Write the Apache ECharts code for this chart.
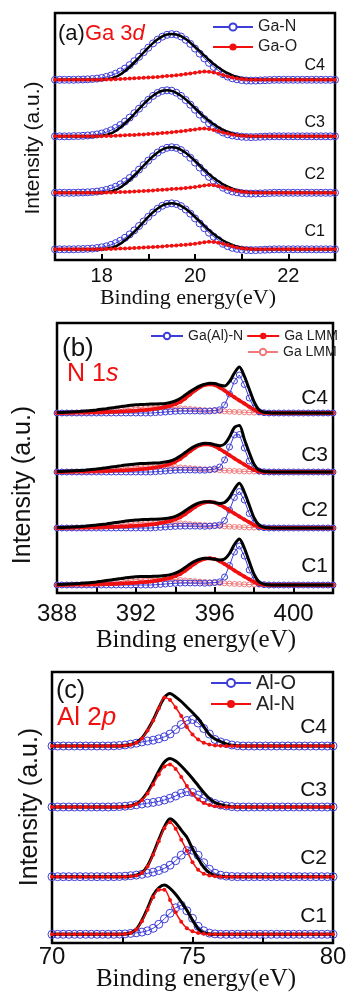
<!DOCTYPE html>
<html>
<head>
<meta charset="utf-8">
<script src="https://cdn.jsdelivr.net/npm/echarts@6/dist/echarts.min.js"></script>
<style>
  html, body { margin: 0; padding: 0; background: #fff; }
  #chart { width: 346px; height: 992px; }
</style>
</head>
<body>
<div id="chart"></div>
<script>
// ---------- data (heights, arbitrary units) ----------
var samples = ['C1', 'C2', 'C3', 'C4'];

// (a) Ga 3d
var xA = [17,17.1,17.2,17.3,17.4,17.5,17.6,17.7,17.8,17.9,
  18,18.1,18.2,18.3,18.4,18.5,18.6,18.7,18.8,18.9,
  19,19.1,19.2,19.3,19.4,19.5,19.6,19.7,19.8,19.9,
  20,20.1,20.2,20.3,20.4,20.5,20.6,20.7,20.8,20.9,
  21,21.1,21.2,21.3,21.4,21.5,21.6,21.7,21.8,21.9,
  22,22.1,22.2,22.3,22.4,22.5,22.6,22.7,22.8,22.9,23];

var gaN_C1 = [0,0,0,0,0,0.2,0.3,0.5,0.8,1.3,
  2.0,3.0,4.4,6.2,8.6,11.5,14.9,18.9,23.3,27.9,
  32.5,36.8,40.6,43.5,45.4,46,45.3,43.2,39.8,35.6,
  30.9,25.9,21.1,16.6,12.6,9.3,5.5,3.2,1.5,0.5,
  -0.3,-0.7,-0.8,-0.8,-0.6,-0.4,-0.2,0,0,0,
  0,0,0,0,0,0,0,0,0,0,0];
var gaN_C2 = [0,0,0,0,0,0.2,0.3,0.5,0.8,1.2,
  1.9,2.9,4.3,6.1,8.5,11.4,14.8,18.8,23.2,27.7,
  32.2,36.5,40.3,43.2,45.0,45.6,44.9,42.7,39.3,35.0,
  30.2,25.2,20.4,15.9,12.0,8.7,5.1,2.9,1.3,0.4,
  -0.3,-0.7,-0.8,-0.7,-0.6,-0.4,-0.2,0,0,0,
  0,0,0,0,0,0,0,0,0,0,0];
var gaN_C3 = [0,0,0,0,0.2,0.3,0.5,0.8,1.2,1.9,
  2.8,4.2,6.0,8.4,11.3,14.7,18.7,23.1,27.6,32.2,
  36.5,40.4,43.4,45.4,46.0,45.6,43.6,40.4,36.3,31.6,
  26.6,21.7,17.2,13.1,9.6,6.4,3.8,2.0,0.9,0.2,
  -0.4,-0.7,-0.8,-0.7,-0.5,-0.3,-0.1,0,0,0,
  0,0,0,0,0,0,0,0,0,0,0];
var gaN_C4 = [0,0,0,0,0,0.2,0.3,0.5,0.8,1.2,
  1.9,2.9,4.3,6.1,8.4,11.3,14.7,18.7,23.0,27.6,
  32.1,36.4,40.2,43.1,45.0,45.7,45.2,43.3,40.0,35.9,
  31.2,26.2,21.4,16.9,12.8,9.4,5.6,3.2,1.5,0.5,
  -0.3,-0.7,-0.8,-0.8,-0.6,-0.4,-0.2,0,0,0,
  0,0,0,0,0,0,0,0,0,0,0];

var gaO_C1 = [0,0,0,0,0,0,0,0,0,0,
  0,0.2,0.3,0.5,0.7,0.9,1.1,1.3,1.5,1.8,
  2.0,2.3,2.6,2.9,3.3,3.6,3.9,4.2,4.5,5.0,
  5.6,6.4,7.1,7.5,7.3,6.6,5.5,4.2,3.0,1.9,
  1.1,0.5,0.2,0,0,0,0,0,0,0,
  0,0,0,0,0,0,0,0,0,0,0];
var gaO_C2 = [0,0,0,0,0,0,0,0,0,0,
  0,0.2,0.3,0.5,0.7,0.9,1.1,1.3,1.6,1.8,
  2.1,2.4,2.7,3.0,3.4,3.7,4.0,4.4,4.8,5.3,
  5.9,6.6,7.3,7.7,7.5,6.8,5.6,4.3,3.0,1.9,
  1.1,0.5,0.2,0,0,0,0,0,0,0,
  0,0,0,0,0,0,0,0,0,0,0];
var gaO_C3 = [0,0,0,0,0,0,0,0,0,0,
  0,0.2,0.4,0.6,0.8,1.0,1.2,1.4,1.7,1.9,
  2.2,2.5,2.8,3.2,3.6,4.0,4.5,5.0,5.6,6.3,
  6.9,7.5,7.7,7.3,6.4,5.2,3.9,2.7,1.7,1.0,
  0.5,0.2,0,0,0,0,0,0,0,0,
  0,0,0,0,0,0,0,0,0,0,0];
var gaO_C4 = [0,0,0,0,0,0,0,0,0,0,
  0,0.2,0.4,0.6,0.8,1.0,1.2,1.5,1.7,2.0,
  2.3,2.6,2.9,3.3,3.7,4.1,4.6,5.1,5.7,6.4,
  7.1,7.8,8.3,8.1,7.3,6.1,4.7,3.4,2.3,1.4,
  0.7,0.3,0.1,0,0,0,0,0,0,0,
  0,0,0,0,0,0,0,0,0,0,0];

var fitA_C1 = [0,0,0,0,0,0,0,0,0,0,
  0,0.5,1.5,3.0,5.5,9.0,13.0,17.5,22.5,27.5,
  32.5,37.0,40.8,43.8,45.6,46.0,45.4,43.5,40.5,36.8,
  32.5,28.0,23.5,19.2,15.3,11.8,8.8,6.3,4.3,2.7,
  1.6,0.8,0.3,0,0,0,0,0,0,0,
  0,0,0,0,0,0,0,0,0,0,0];
var fitA_C2 = [0,0,0,0,0,0,0,0,0,0,
  0,0.5,1.4,2.9,5.3,8.8,12.8,17.3,22.2,27.2,
  32.0,36.5,40.3,43.3,45.2,45.6,45.0,43.0,40.0,36.2,
  31.9,27.4,22.9,18.7,14.9,11.5,8.5,6.1,4.1,2.6,
  1.5,0.8,0.3,0,0,0,0,0,0,0,
  0,0,0,0,0,0,0,0,0,0,0];
var fitA_C3 = [0,0,0,0,0,0,0,0,0,0,
  0.5,1.4,2.9,5.3,8.8,12.8,17.3,22.3,27.4,32.2,
  36.8,40.6,43.6,45.5,46.0,45.4,43.5,40.6,36.9,32.7,
  28.2,23.7,19.4,15.5,12.0,9.0,6.5,4.5,2.9,1.7,
  0.9,0.4,0,0,0,0,0,0,0,0,
  0,0,0,0,0,0,0,0,0,0,0];
var fitA_C4 = [0,0,0,0,0,0,0,0,0,0,
  0,0.5,1.4,2.9,5.3,8.8,12.8,17.3,22.3,27.3,
  32.2,36.7,40.5,43.5,45.3,45.7,45.3,43.6,40.8,37.2,
  33.0,28.6,24.1,19.8,15.8,12.2,9.2,6.6,4.5,2.9,
  1.7,0.9,0.4,0,0,0,0,0,0,0,
  0,0,0,0,0,0,0,0,0,0,0];

// (b) N 1s
var xB = [388,388.25,388.5,388.75,389,389.25,389.5,389.75,390,390.25,390.5,390.75,
  391,391.25,391.5,391.75,392,392.25,392.5,392.75,393,393.25,393.5,393.75,
  394,394.25,394.5,394.75,395,395.25,395.5,395.75,396,396.25,396.5,396.75,
  397,397.25,397.5,397.75,398,398.25,398.5,398.75,399,399.25,399.5,399.75,
  400,400.25,400.5,400.75,401,401.25,401.5,401.75,402];

var gaAlN_C1 = [0,0,0,0, 0,0,0,0, 0,0,0,0, 0,0,0,0, 0,0,0,0,
  0.3,0.6,1.0,1.4, 1.7,1.9,2.0,2.0, 2.0,1.9,1.8,2.0, 2.5,3.2,8.0,19.5,
  33.0,39.0,29.0,15.0, 5.0,1.3,0.3,0, 0,0,0,0,0,0,0,0,0,0,0,0,0];
var gaAlN_C2 = [0,0,0,0, 0,0,0,0, 0,0,0,0, 0,0,0,0, 0,0,0,0,
  0.3,0.6,1.0,1.3, 1.6,1.8,1.9,1.9, 1.9,1.8,1.7,1.9, 2.4,3.0,7.5,18.0,
  30.5,36.5,28.0,14.5, 4.8,1.2,0.3,0, 0,0,0,0,0,0,0,0,0,0,0,0,0];
var gaAlN_C3 = [0,0,0,0, 0,0,0,0, 0,0,0,0, 0,0,0,0, 0,0,0,0,
  0.3,0.6,1.0,1.4, 1.7,1.9,2.0,2.0, 1.9,1.8,1.8,2.2, 3.0,5.0,12.0,25.0,
  37.0,37.5,24.0,11.0, 3.5,1.0,0.2,0, 0,0,0,0,0,0,0,0,0,0,0,0,0];
var gaAlN_C4 = [0,0,0,0, 0,0,0,0, 0,0,0,0, 0,0,0,0, 0,0,0,0,
  0.3,0.6,1.0,1.4, 1.7,1.9,2.0,2.0, 2.0,1.9,1.8,2.0, 2.5,3.2,8.0,19.0,
  32.0,38.0,28.5,15.0, 5.0,1.3,0.3,0, 0,0,0,0,0,0,0,0,0,0,0,0,0];

var lmm1_C1 = [0,0.1,0.2,0.3, 0.4,0.5,0.6,0.7, 0.8,0.9,1.0,1.1, 1.3,1.5,1.7,2.0,
  2.3,2.7,3.1,3.6, 4.2,5.0,6.0,7.2, 8.8,11.0,14.2,18.0, 21.5,24.4,26.2,26.8,
  26.0,23.8,21.0,17.8, 14.6,11.5,8.6,5.7, 3.0,0.9,0.2,0, 0,0,0,0,0,0,0,0,0,0,0,0,0];
var lmm1_C2 = [0,0.1,0.2,0.3, 0.4,0.5,0.6,0.7, 0.8,0.9,1.0,1.1, 1.2,1.4,1.6,1.9,
  2.2,2.6,3.0,3.5, 4.1,4.9,5.9,7.1, 8.6,10.7,13.8,17.5, 21.0,23.8,25.6,26.2,
  25.4,23.2,20.5,17.4, 14.4,11.4,8.6,5.7, 3.0,0.9,0.2,0, 0,0,0,0,0,0,0,0,0,0,0,0,0];
var lmm1_C3 = [0,0.1,0.2,0.3, 0.4,0.5,0.6,0.8, 0.9,1.0,1.1,1.3, 1.4,1.6,1.8,2.1,
  2.4,2.8,3.2,3.8, 4.5,5.4,6.6,8.2, 10.2,13.0,16.8,20.8, 24.3,26.8,27.8,27.5,
  25.8,23.0,20.0,16.8, 13.6,10.5,7.5,4.5, 2.0,0.5,0,0, 0,0,0,0,0,0,0,0,0,0,0,0,0];
var lmm1_C4 = [0,0.1,0.2,0.3, 0.4,0.5,0.6,0.8, 0.9,1.0,1.1,1.2, 1.3,1.5,1.7,2.0,
  2.3,2.7,3.1,3.6, 4.2,5.0,6.0,7.3, 8.8,11.0,14.5,18.5, 22.5,25.8,28.0,28.8,
  28.0,25.5,22.5,19.0, 15.8,12.5,9.5,6.3, 3.3,1.0,0.2,0, 0,0,0,0,0,0,0,0,0,0,0,0,0];

var lmm2_C1 = [0,0,0,0, 0,0,0.2,0.4, 0.7,1.1,1.6,2.2, 2.9,3.6,4.3,5.0,
  5.5,5.9,6.2,6.4, 6.4,6.3,6.1,5.8, 5.4,5.0,4.6,4.2, 3.8,3.4,3.0,2.6,
  2.3,2.0,1.7,1.4, 1.1,0.9,0.7,0.5, 0.4,0.3,0.2,0.1, 0,0,0,0,0,0,0,0,0,0,0,0,0];
var lmm2_C2 = [0,0,0,0, 0,0,0,0.3, 0.6,1.0,1.5,2.0, 2.6,3.3,4.0,4.6,
  5.1,5.5,5.8,5.9, 5.9,5.8,5.6,5.3, 5.0,4.7,4.3,3.9, 3.5,3.1,2.8,2.5,
  2.2,1.9,1.6,1.3, 1.1,0.9,0.7,0.5, 0.4,0.3,0.2,0.1, 0,0,0,0,0,0,0,0,0,0,0,0,0];
var lmm2_C3 = [0,0,0,0, 0,0,0.2,0.4, 0.7,1.1,1.6,2.2, 2.9,3.6,4.3,4.9,
  5.4,5.8,6.0,6.0, 5.9,5.8,5.6,5.3, 5.0,4.6,4.2,3.8, 3.4,3.0,2.7,2.4,
  2.1,1.8,1.5,1.2, 1.0,0.8,0.6,0.5, 0.4,0.3,0.2,0.1, 0,0,0,0,0,0,0,0,0,0,0,0,0];
var lmm2_C4 = [0,0,0,0, 0,0,0,0.3, 0.6,1.0,1.5,2.1, 2.8,3.5,4.2,4.8,
  5.3,5.7,6.0,6.1, 6.1,6.0,5.8,5.5, 5.2,4.8,4.4,4.0, 3.6,3.2,2.8,2.5,
  2.2,1.9,1.6,1.3, 1.1,0.9,0.7,0.5, 0.4,0.3,0.2,0.1, 0,0,0,0,0,0,0,0,0,0,0,0,0];

var fitB_C1 = [0.5,0.6,0.8,1.0, 1.3,1.7,2.1,2.6, 3.1,3.7,4.4,5.1, 5.8,6.5,7.2,7.8,
  8.2,8.4,8.5,8.6, 8.8,9.0,9.5,10.4, 11.8,14.2,17.5,21.0, 23.8,25.8,26.7,26.6,
  25.8,25.0,26.0,31.5, 40.5,46.0,37.0,23.5, 10.5,3.0,0.8,0.2, 0,0,0,0,0,0,0,0,0,0,0,0,0];
var fitB_C2 = [0.4,0.5,0.7,0.9, 1.2,1.5,1.9,2.4, 2.9,3.5,4.1,4.8, 5.5,6.2,6.9,7.5,
  8.0,8.3,8.5,8.7, 8.8,9.0,9.4,10.2, 11.6,14.0,17.2,20.6, 23.4,25.4,26.3,26.2,
  25.4,24.6,25.5,30.5, 39.0,44.7,36.0,23.0, 10.0,2.8,0.7,0.2, 0,0,0,0,0,0,0,0,0,0,0,0,0];
var fitB_C3 = [0.5,0.6,0.8,1.0, 1.3,1.6,2.0,2.5, 3.0,3.6,4.2,4.9, 5.6,6.3,7.0,7.6,
  8.1,8.4,8.6,8.8, 9.0,9.3,9.9,11.0, 13.0,16.0,19.5,23.0, 25.8,27.8,28.8,28.5,
  27.3,26.3,28.0,35.0, 44.5,46.5,33.0,19.5, 7.5,2.0,0.6,0.2, 0,0,0,0,0,0,0,0,0,0,0,0,0];
var fitB_C4 = [0.5,0.6,0.8,1.0, 1.3,1.7,2.1,2.6, 3.1,3.7,4.3,5.0, 5.7,6.4,7.1,7.7,
  8.2,8.5,8.7,8.9, 9.0,9.2,9.6,10.5, 12.0,14.5,18.0,21.5, 24.5,27.0,28.7,29.7,
  29.5,28.0,27.0,31.5, 40.0,46.0,37.0,24.0, 11.0,3.0,0.8,0.3, 0,0,0,0,0,0,0,0,0,0,0,0,0];

// (c) Al 2p
var xC = [70,70.2,70.4,70.6,70.8,71,71.2,71.4,71.6,71.8,
  72,72.2,72.4,72.6,72.8,73,73.2,73.4,73.6,73.8,
  74,74.2,74.4,74.6,74.8,75,75.2,75.4,75.6,75.8,
  76,76.2,76.4,76.6,76.8,77,77.2,77.4,77.6,77.8,
  78,78.2,78.4,78.6,78.8,79,79.2,79.4,79.6,79.8,80];

var alO_C1 = [0,0,0,0,0,0,0,0,0,0,
  0,0,0.2,0.4,0.9,1.5,2.2,3.5,6,10,
  15.5,21,26.5,29,23.5,16,8,3.5,1.2,0.4,
  0,0,0,0,0,0,0,0,0,0, 0,0,0,0,0,0,0,0,0,0,0];
var alO_C2 = [0,0,0,0,0,0,0,0,0,0,
  0,0,0.2,0.5,1.0,1.6,2.4,3.4,4.6,6.2,
  8.3,11.5,16,21.5,26,26.5,21.5,14,7.5,3.5,
  1.5,0.6,0.2,0,0,0,0,0,0,0, 0,0,0,0,0,0,0,0,0,0,0];
var alO_C3 = [0,0,0,0,0,0,0,0,0,0,
  0,0.2,0.4,0.8,1.4,2.2,3.0,3.8,4.6,5.6,
  7.0,8.8,11,13.8,15.3,14.5,12,8.8,5.8,3.5,
  2,1,0.4,0,0,0,0,0,0,0, 0,0,0,0,0,0,0,0,0,0,0];
var alO_C4 = [0,0,0,0,0,0,0,0,0,0,
  0,0.2,0.5,1.0,1.8,2.8,4.0,5.0,5.8,7.2,
  9.2,12,16.5,21.5,25.5,26.5,23,17.5,12,6.5,
  4,2.5,1,0.3,0,0,0,0,0,0, 0,0,0,0,0,0,0,0,0,0,0];

var alN_C1 = [0,0,0,0,0,0,0,0,0,0,
  0,0,0,0.3,1.4,4.7,13,24.5,37,44.5,
  44.5,34.3,22,12.5,6,3,1.3,0.5,0,0,
  0,0,0,0,0,0,0,0,0,0, 0,0,0,0,0,0,0,0,0,0,0];
var alN_C2 = [0,0,0,0,0,0,0,0,0,0,
  0,0,0,0,0.4,1.3,3.7,10.3,22,35.5,
  48.5,54.5,48,37,26,14.5,7,3,1.2,0.4,
  0,0,0,0,0,0,0,0,0,0, 0,0,0,0,0,0,0,0,0,0,0];
var alN_C3 = [0,0,0,0,0,0,0,0,0,0,
  0,0,0,0.3,1.1,2.9,6.8,13.5,22.5,32.5,
  40.5,42.5,38,30,21,13,7.5,4,2,0.8,
  0.3,0,0,0,0,0,0,0,0,0, 0,0,0,0,0,0,0,0,0,0,0];
var alN_C4 = [0,0,0,0,0,0,0,0,0,0,
  0,0,0,0.4,1.3,3.2,7.5,15.5,25.5,37.5,
  48.5,46,38.5,30,19,11.5,6.5,3.2,1.5,0.6,
  0.2,0,0,0,0,0,0,0,0,0, 0,0,0,0,0,0,0,0,0,0,0];

var fitC_C1 = [0,0,0,0,0,0,0,0,0,0,
  0,0,0,0.3,1.5,5,14,26,39,46.5,
  49.3,46,40,32.5,24,14,5.5,1.5,0.4,0,
  0,0,0,0,0,0,0,0,0,0, 0,0,0,0,0,0,0,0,0,0,0];
var fitC_C2 = [0,0,0,0,0,0,0,0,0,0,
  0,0,0,0,0.5,1.5,4,11,23,37,
  50,58,54,46.5,39.5,28,18,9.5,4,1.3,
  0.4,0,0,0,0,0,0,0,0,0, 0,0,0,0,0,0,0,0,0,0,0];
var fitC_C3 = [0,0,0,0,0,0,0,0,0,0,
  0,0,0,0.4,1.3,3.2,7.5,15,25,36,
  45,48.5,46,41,35,28.5,21.5,14.5,8.5,4.5,
  2.2,1,0.3,0,0,0,0,0,0,0, 0,0,0,0,0,0,0,0,0,0,0];
var fitC_C4 = [0,0,0,0,0,0,0,0,0,0,
  0,0,0,0.5,1.5,3.5,8,16,26,38,
  48.5,52.5,49,44.5,39,33.5,27.5,19.5,11.5,7,
  4.5,2,0.7,0.2,0,0,0,0,0,0, 0,0,0,0,0,0,0,0,0,0,0];

// ---------- layout ----------
var SANS = 'Liberation Sans, Arial, sans-serif';
var SERIF = 'Liberation Serif, Times New Roman, serif';
var BLUE = '#3d3dd8';
var RED = '#f01010';
var PINK = '#f07a7a';

// vertical offset of each sample's baseline inside its panel (px units)
var baseA = [10.7, 67.2, 123.7, 180.2];
var baseB = [8, 65, 121, 180];
var baseC = [8.7, 66.3, 136, 197];

var gaN = [gaN_C1, gaN_C2, gaN_C3, gaN_C4];
var gaO = [gaO_C1, gaO_C2, gaO_C3, gaO_C4];
var fitA = [fitA_C1, fitA_C2, fitA_C3, fitA_C4];
var gaAlN = [gaAlN_C1, gaAlN_C2, gaAlN_C3, gaAlN_C4];
var lmm1 = [lmm1_C1, lmm1_C2, lmm1_C3, lmm1_C4];
var lmm2 = [lmm2_C1, lmm2_C2, lmm2_C3, lmm2_C4];
var fitB = [fitB_C1, fitB_C2, fitB_C3, fitB_C4];
var alO = [alO_C1, alO_C2, alO_C3, alO_C4];
var alN = [alN_C1, alN_C2, alN_C3, alN_C4];
var fitC = [fitC_C1, fitC_C2, fitC_C3, fitC_C4];

function pts(xs, ys, off) {
  return xs.map(function (x, i) { return [x, ys[i] + off]; });
}

var series = [];
function add(o) {
  series.push(Object.assign({ type: 'line', silent: true, animation: false }, o));
}
function openDots(color, size) {
  return { symbol: 'circle', symbolSize: size,
    itemStyle: { color: 'rgba(255,255,255,0)', borderColor: color, borderWidth: 1 } };
}

for (var k = 0; k < 4; k++) {
  // panel a
  add(Object.assign({ name: 'Ga-N', xAxisIndex: 0, yAxisIndex: 0, z: 2,
    data: pts(xA, gaN[k], baseA[k]), lineStyle: { color: BLUE, width: 1 } }, openDots(BLUE, 7)));
  add({ name: 'fit a' + k, xAxisIndex: 0, yAxisIndex: 0, z: 3, symbol: 'none', smooth: 0.3,
    data: pts(xA, fitA[k], baseA[k]), lineStyle: { color: '#000', width: 2.5 } });
  add({ name: 'Ga-O', xAxisIndex: 0, yAxisIndex: 0, z: 4, symbol: 'circle', symbolSize: 4,
    data: pts(xA, gaO[k], baseA[k]), itemStyle: { color: RED }, lineStyle: { color: RED, width: 1.5 } });

  // panel b
  add(Object.assign({ name: 'Ga LMM ', xAxisIndex: 1, yAxisIndex: 1, z: 2,
    data: pts(xB, lmm2[k], baseB[k]), lineStyle: { color: PINK, width: 1 } }, openDots(PINK, 5)));
  add(Object.assign({ name: 'Ga(Al)-N', xAxisIndex: 1, yAxisIndex: 1, z: 3,
    data: pts(xB, gaAlN[k], baseB[k]), lineStyle: { color: BLUE, width: 1 } }, openDots(BLUE, 6)));
  add({ name: 'Ga LMM', xAxisIndex: 1, yAxisIndex: 1, z: 4, symbol: 'circle', symbolSize: 4,
    data: pts(xB, lmm1[k], baseB[k]), itemStyle: { color: RED }, lineStyle: { color: RED, width: 3.5 } });
  add({ name: 'fit b' + k, xAxisIndex: 1, yAxisIndex: 1, z: 5, symbol: 'none', smooth: 0.3,
    data: pts(xB, fitB[k], baseB[k]), lineStyle: { color: '#000', width: 3 } });

  // panel c
  add(Object.assign({ name: 'Al-O', xAxisIndex: 2, yAxisIndex: 2, z: 2,
    data: pts(xC, alO[k], baseC[k]), lineStyle: { color: BLUE, width: 1 } }, openDots(BLUE, 8)));
  add({ name: 'fit c' + k, xAxisIndex: 2, yAxisIndex: 2, z: 3, symbol: 'none', smooth: 0.3,
    data: pts(xC, fitC[k], baseC[k]), lineStyle: { color: '#000', width: 3 } });
  add({ name: 'Al-N', xAxisIndex: 2, yAxisIndex: 2, z: 4, symbol: 'circle', symbolSize: 4, smooth: 0.3,
    data: pts(xC, alN[k], baseC[k]), itemStyle: { color: RED }, lineStyle: { color: RED, width: 1.5 } });
}

function grid(left, top, width, height) {
  return { left: left, top: top, width: width, height: height, show: true,
    borderColor: '#000', borderWidth: 2.5, backgroundColor: 'transparent', outerBoundsMode: 'none' };
}
function xaxis(gi, min, max, step, every, size, margin) {
  return { type: 'value', gridIndex: gi, min: min, max: max, interval: step,
    axisLine: { show: false }, splitLine: { show: false },
    axisTick: { show: true, inside: true, length: 6, lineStyle: { color: '#000', width: 2 } },
    axisLabel: { fontSize: size, fontFamily: SANS, color: '#111', margin: margin,
      showMinLabel: true, showMaxLabel: true,
      formatter: function (v) { return Math.abs(v % every) < 1e-6 ? String(v) : ''; } } };
}
function yaxis(gi, h) {
  return { type: 'value', gridIndex: gi, min: 0, max: h, show: false };
}

function txt(x, y, s, size, opts) {
  return Object.assign({ type: 'text', x: x, y: y, silent: true,
    style: Object.assign({ text: s, fill: '#111', fontSize: size, fontFamily: SANS,
      align: 'center', verticalAlign: 'middle' }, (opts && opts.style) || {}) },
    (opts && opts.el) || {});
}

var graphics = [
  // panel headers
  txt(58, 34, '{k|(a)}{r|Ga 3}{ri|d}', 22, { style: { align: 'left', rich: {
    k: { fill: '#111', fontSize: 22, fontFamily: SANS },
    r: { fill: RED, fontSize: 22, fontFamily: SANS },
    ri: { fill: RED, fontSize: 22, fontFamily: SANS, fontStyle: 'italic' } } } }),
  txt(62, 349, '(b)', 26, { style: { align: 'left' } }),
  txt(67, 374, '{r|N 1}{ri|s}', 25, { style: { align: 'left', rich: {
    r: { fill: RED, fontSize: 25, fontFamily: SANS },
    ri: { fill: RED, fontSize: 25, fontFamily: SANS, fontStyle: 'italic' } } } }),
  txt(56, 691, '(c)', 25, { style: { align: 'left' } }),
  txt(57, 718, '{r|Al 2}{ri|p}', 26, { style: { align: 'left', rich: {
    r: { fill: RED, fontSize: 26, fontFamily: SANS },
    ri: { fill: RED, fontSize: 26, fontFamily: SANS, fontStyle: 'italic' } } } }),

  // y titles
  txt(33, 148, 'Intensity (a.u.)', 21, { el: { rotation: Math.PI / 2 } }),
  txt(23, 485, 'Intensity (a.u.)', 25, { el: { rotation: Math.PI / 2 } }),
  txt(30, 807, 'Intensity (a.u.)', 25, { el: { rotation: Math.PI / 2 } }),

  // x titles
  txt(188, 298, 'Binding energy(eV)', 22, { style: { fontFamily: SERIF } }),
  txt(196, 640, 'Binding energy(eV)', 25, { style: { fontFamily: SERIF } }),
  txt(196, 979, 'Binding energy(eV)', 25, { style: { fontFamily: SERIF } })
];

// sample labels
var labA = [231.5, 175, 122.5, 66];
var labB = [566.5, 510, 455, 398.5];
var labC = [916.5, 858.5, 790.5, 727.5];
samples.forEach(function (s, i) {
  graphics.push(txt(325, labA[i], s, 16, { style: { align: 'right' } }));
  graphics.push(txt(328, labB[i], s, 21, { style: { align: 'right' } }));
  graphics.push(txt(327, labC[i], s, 21, { style: { align: 'right' } }));
});

function legend(names, left, top, o) {
  return Object.assign({ data: names, left: left, top: top, padding: 0, selectedMode: false,
    textStyle: { fontFamily: SANS, color: '#222', fontSize: 16 } }, o);
}

var option = {
  animation: false,
  backgroundColor: '#fff',
  grid: [grid(55, 13, 280, 247), grid(57, 323, 276, 270), grid(52, 672, 281, 271)],
  xAxis: [xaxis(0, 17, 23, 1, 2, 20, 6), xaxis(1, 388, 402, 2, 4, 24, 9), xaxis(2, 70, 80, 2.5, 5, 24, 2)],
  yAxis: [yaxis(0, 247), yaxis(1, 270), yaxis(2, 271)],
  legend: [
    legend([{ name: 'Ga-N', itemStyle: { color: '#fff' } }, 'Ga-O'], 212, 19,
      { orient: 'vertical', itemWidth: 40, itemHeight: 9, itemGap: 4 }),
    legend([{ name: 'Ga(Al)-N', itemStyle: { color: '#fff' } }, 'Ga LMM'], 150, 329,
      { itemWidth: 32, itemHeight: 8, itemGap: 3, textStyle: { fontFamily: SANS, color: '#222', fontSize: 14 } }),
    legend([{ name: 'Ga LMM ', itemStyle: { color: '#fff' } }], 247, 345,
      { itemWidth: 30, itemHeight: 8, textStyle: { fontFamily: SANS, color: '#222', fontSize: 14 } }),
    legend([{ name: 'Al-O', itemStyle: { color: '#fff' } }, 'Al-N'], 210, 673,
      { orient: 'vertical', itemWidth: 40, itemHeight: 10, itemGap: 1,
        textStyle: { fontFamily: SANS, color: '#222', fontSize: 20 } })
  ],
  graphic: graphics,
  series: series
};

var chart = echarts.init(document.getElementById('chart'), null, { renderer: 'canvas' });
chart.setOption(option);
</script>
</body>
</html>
